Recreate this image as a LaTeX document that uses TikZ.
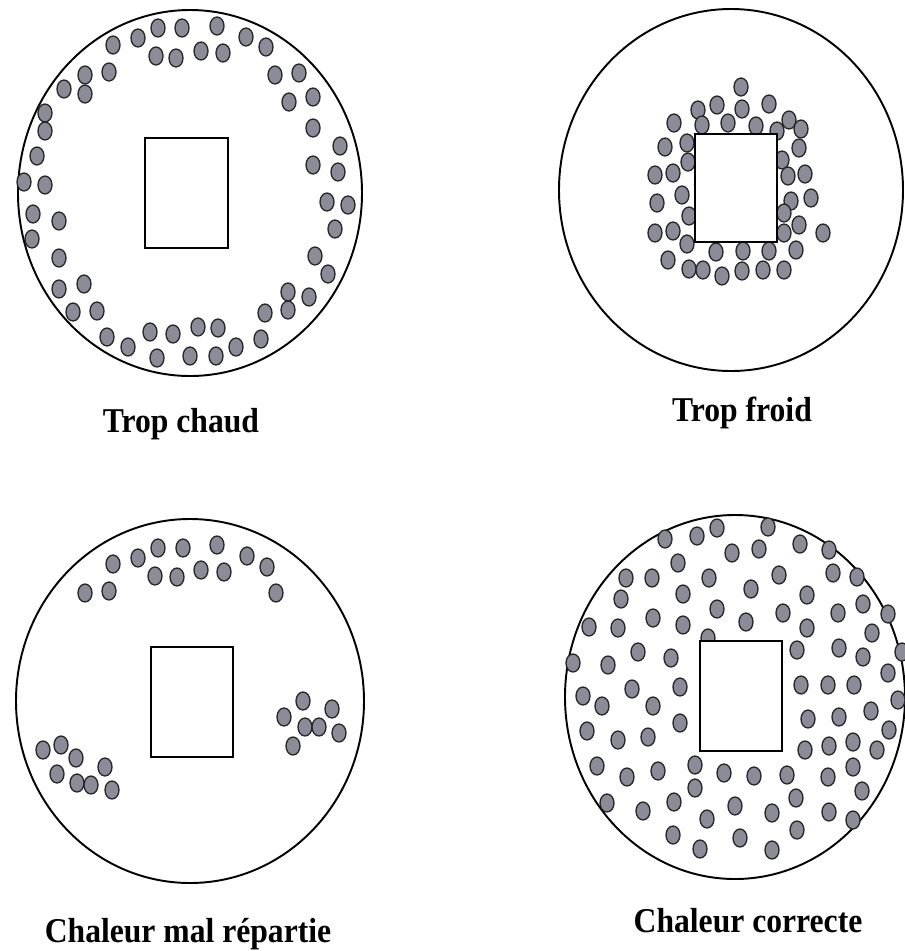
\documentclass[tikz,border=0pt]{standalone}
\usepackage{fontspec}
\setmainfont{Liberation Serif}
\definecolor{chickgray}{RGB}{140,140,152}
\tikzset{
  chick/.style={fill=chickgray,draw=black!85,line width=0.75pt},
  ring/.style={line width=1.1pt},
  lamp/.style={draw,fill=white,line width=0.8pt},
  caption/.style={font=\fontsize{18}{21}\selectfont\bfseries,anchor=base,yscale=1.1}
}

\begin{document}
\begin{tikzpicture}[x=0.02cm,y=-0.02cm]
\useasboundingbox (0,0) rectangle (904,951);
% the four rings
\draw[ring] (190,193) ellipse [x radius=172, y radius=183];
\draw[ring] (731,190) ellipse [x radius=172, y radius=181];
\draw[ring] (190,701) ellipse [x radius=174, y radius=182];
\draw[ring] (735,697) ellipse [x radius=170, y radius=182];
% too hot: chicks along the wall
\foreach \px/\py in {113/45,138/38,158/28,182/28,217/26,246/37,266/47,156/56,176/58,201/51,
  223/53,109/72,85/75,85/94,64/89,275/75,299/73,289/102,313/97,45/113,45/131,313/128,37/156,
  340/146,24/182,45/185,313/165,338/172,33/214,59/221,327/202,348/205,32/239,335/229,59/258,
  315/256,328/274,59/289,84/284,288/292,309/297,73/312,97/311,288/310,265/313,107/337,128/347,
  150/332,173/334,198/327,218/328,157/358,190/356,216/356,236/347,261/339}
  \draw[chick] (\px,\py) ellipse [x radius=7, y radius=9];
% too cold: chicks packed round the lamp
\foreach \px/\py in {741/87,717/105,698/110,742/109,769/104,674/123,702/125,728/123,756/126,
  777/131,789/120,801/129,665/147,687/143,799/148,688/162,782/160,655/175,673/173,788/176,
  805/174,657/203,682/195,791/201,811/198,689/216,784/213,655/233,673/231,687/244,784/233,
  799/225,823/233,668/260,689/269,703/270,716/252,722/276,743/251,742/271,769/251,763/270,
  784/270,796/250}
  \draw[chick] (\px,\py) ellipse [x radius=7, y radius=9];
% badly spread heat
\foreach \px/\py in {85/593,109/591,113/564,138/558,158/548,183/548,217/545,247/556,267/567,
  276/593,155/576,177/577,201/570,224/572,
  303/701,284/717,305/727,319/727,332/709,339/733,293/746,
  43/750,61/745,76/758,57/774,77/783,91/785,105/767,112/790}
  \draw[chick] (\px,\py) ellipse [x radius=7, y radius=9];
% right heat
\foreach \px/\py in {665/539,697/536,717/528,768/527,800/544,829/550,732/553,759/549,678/563,
  626/578,652/578,709/578,779/575,833/573,857/577,621/599,683/594,751/589,807/595,863/604,
  888/614,589/627,618/628,653/618,717/609,746/622,783/613,807/628,838/613,872/633,683/625,
  708/638,573/663,608/665,638/652,671/658,797/650,839/648,863/657,902/652,888/673,583/696,
  602/706,632/689,680/687,801/685,828/685,854/685,898/700,653/706,871/711,587/731,618/740,
  648/737,680/723,808/719,839/717,889/730,805/750,829/746,853/742,877/750,597/766,627/777,
  658/771,695/765,724/773,754/776,787/775,828/777,853/767,695/788,796/798,862/791,607/803,
  643/811,674/802,735/806,772/813,829/812,853/820,707/819,673/835,740/838,797/830,700/849,
  772/850}
  \draw[chick] (\px,\py) ellipse [x radius=7, y radius=9];
% heat lamps
\draw[lamp] (145,138) rectangle (228,248);
\draw[lamp] (695,134) rectangle (777,242);
\draw[lamp] (151,647) rectangle (233,757);
\draw[lamp] (700,641) rectangle (782,751);
% captions
\node[caption] (chaud) at (181,432) {Trop chaud};
\node[caption] (froid) at (742,421) {Trop froid};
\node[caption] (mal) at (188,942) {Chaleur mal répartie};
\node[caption] (correcte) at (748,932) {Chaleur correcte};
\end{tikzpicture}
\end{document}
